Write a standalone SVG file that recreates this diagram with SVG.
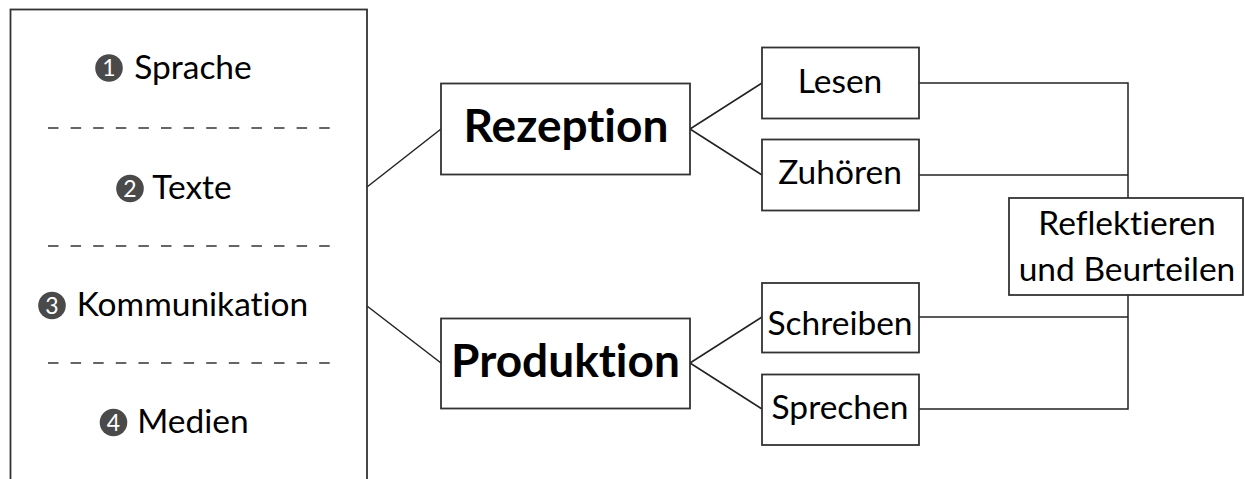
<svg xmlns="http://www.w3.org/2000/svg" width="1245" height="479" viewBox="0 0 1245 479">
<style>
.box{fill:#fff;stroke:#333;stroke-width:1.8}
.ln{fill:none;stroke:#222;stroke-width:1.5}
.dash{fill:none;stroke:#333;stroke-width:1.6;stroke-dasharray:10.5 12.1}
text{font-variant-ligatures:no-common-ligatures;font-feature-settings:"liga" 0,"dlig" 0}
.t{font-family:Lato,"Liberation Sans",sans-serif;font-size:33.5px;fill:#000;text-anchor:middle}
.b{font-family:Lato,"Liberation Sans",sans-serif;font-size:46px;font-weight:bold;fill:#000;text-anchor:middle}
.num{fill:#4a4a4a}
.d{font-family:Lato,"Liberation Sans",sans-serif;font-size:23px;fill:#fff;text-anchor:middle}
</style>
<rect width="1245" height="479" fill="#fff"/>
<g id="connectors">
<line class="ln" x1="367" y1="187" x2="441" y2="129"/>
<line class="ln" x1="367" y1="306" x2="441" y2="363"/>
<line class="ln" x1="690" y1="129" x2="762" y2="83"/>
<line class="ln" x1="690" y1="129" x2="762" y2="175"/>
<line class="ln" x1="690" y1="363" x2="762" y2="317"/>
<line class="ln" x1="690" y1="363" x2="762" y2="409"/>
<polyline class="ln" points="919,83 1128,83 1128,198"/>
<line class="ln" x1="919" y1="175" x2="1128" y2="175"/>
<polyline class="ln" points="1128,295 1128,409 919,409"/>
<line class="ln" x1="919" y1="317" x2="1128" y2="317"/>
</g>
<g id="bereiche">
<rect class="box" x="10.5" y="9.5" width="356.5" height="480"/>
<line class="dash" x1="48" y1="128" x2="330" y2="128"/>
<line class="dash" x1="48" y1="246" x2="330" y2="246"/>
<line class="dash" x1="48" y1="363" x2="330" y2="363"/>
<g id="sprache">
<circle class="num" cx="109" cy="68" r="13.8"/>
<text class="d" x="109" y="76">1</text>
<text class="t" x="193" y="78.5">Sprache</text>
</g>
<g id="texte">
<circle class="num" cx="130" cy="188.5" r="13.8"/>
<text class="d" x="130" y="196.5">2</text>
<text class="t" x="192" y="199">Texte</text>
</g>
<g id="kommunikation">
<circle class="num" cx="52" cy="305.5" r="13.8"/>
<text class="d" x="52" y="313.5">3</text>
<text class="t" x="192.5" y="316">Kommunikation</text>
</g>
<g id="medien">
<circle class="num" cx="113.5" cy="422.5" r="13.8"/>
<text class="d" x="113.5" y="430.5">4</text>
<text class="t" x="193" y="433">Medien</text>
</g>
</g>
<g id="rezeption">
<rect class="box" x="441" y="83.5" width="249" height="91"/>
<text class="b" x="566" y="142">Rezeption</text>
</g>
<g id="produktion">
<rect class="box" x="441" y="318.5" width="249" height="90"/>
<text class="b" x="565.5" y="377">Produktion</text>
</g>
<g id="lesen">
<rect class="box" x="762" y="47.5" width="157" height="71"/>
<text class="t" x="840" y="92.5">Lesen</text>
</g>
<g id="zuhoeren">
<rect class="box" x="762" y="139.5" width="157" height="71"/>
<text class="t" x="840" y="184">Zuhören</text>
</g>
<g id="schreiben">
<rect class="box" x="762" y="283" width="157" height="69.5"/>
<text class="t" x="840" y="335">Schreiben</text>
</g>
<g id="sprechen">
<rect class="box" x="762" y="374.5" width="157" height="70.5"/>
<text class="t" x="840" y="419">Sprechen</text>
</g>
<g id="reflektieren">
<rect class="box" x="1009" y="198" width="234" height="97"/>
<text class="t" x="1127" y="235">Reflektieren</text>
<text class="t" x="1127" y="281">und Beurteilen</text>
</g>
</svg>
